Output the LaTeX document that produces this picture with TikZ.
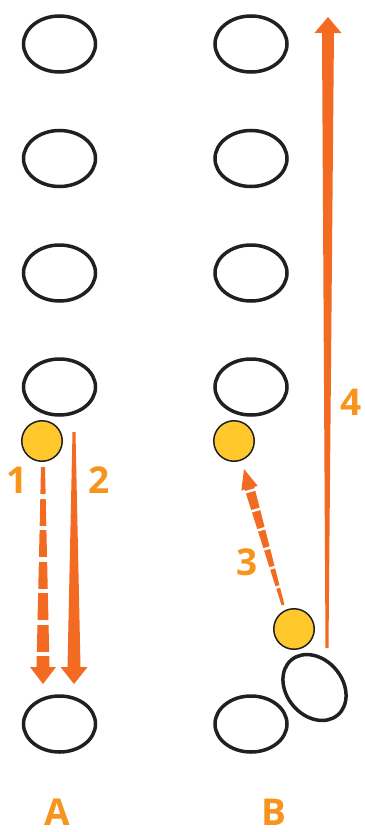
\documentclass[tikz,border=0pt]{standalone}
\usepackage{fontspec}
\setmainfont{Open Sans}
\usetikzlibrary{shapes.geometric,calc}
\definecolor{arrowor}{HTML}{F36A23}
\definecolor{labelor}{HTML}{F7941D}
\definecolor{ballyel}{HTML}{FFC82C}
\definecolor{inkblk}{HTML}{231F20}
\tikzset{
  slot/.style={ellipse, draw=inkblk, line width=3.5pt, minimum width=72pt, minimum height=56pt, inner sep=0pt},
  ball/.style={circle, draw=inkblk, fill=ballyel, line width=1.5pt, minimum size=40.5pt, inner sep=0pt},
  lab/.style={text=labelor, font=\fontsize{37}{37}\selectfont\bfseries, inner sep=0pt},
  arrowfill/.style={fill=arrowor},
}
% #1 tail, #2 tip, #3 tail half-width, #4 shaft half-width at head, #5 head half-width, #6 head length, #7 base name
\newcommand\taperarrow[7]{%
  \coordinate (#7) at ($(#2)!#6!(#1)$);
  \fill[arrowfill] ($(#1)!#3!90:(#2)$) -- ($(#7)!#4!-90:(#1)$) -- ($(#7)!#5!-90:(#1)$) -- (#2)
     -- ($(#7)!#5!90:(#1)$) -- ($(#7)!#4!90:(#1)$) -- ($(#1)!#3!-90:(#2)$) -- cycle;
}
\begin{document}
\begin{tikzpicture}[x=1pt,y=-1pt]
\useasboundingbox (0,0) rectangle (364,832);
% column A
\node[slot] (eA1) at (59.5,44) {};
\node[slot] (eA2) at (59.5,158.5) {};
\node[slot] (eA3) at (59.5,273) {};
\node[slot] (eA4) at (59.5,387) {};
\node[slot] (eA5) at (59.5,724) {};
% column B
\node[slot] (eB1) at (251,44) {};
\node[slot] (eB2) at (251,158.5) {};
\node[slot] (eB3) at (251,273) {};
\node[slot] (eB4) at (251,387) {};
\node[slot] (eB5) at (251,724) {};
\node[slot, rotate=-50] (eBt) at (314.5,687.5) {};
% balls
\node[ball] (cA) at (42,441) {};
\node[ball] (cB1) at (234,441) {};
\node[ball] (cB2) at (294,629) {};
% arrow coordinates
\coordinate (t1) at (43,467);
\coordinate (p1) at (43,684);
\coordinate (t2) at (74,432);
\coordinate (p2) at (74,684);
\coordinate (t3) at (283,605);
\coordinate (p3) at (244,469);
\coordinate (t4) at (327,648);
\coordinate (p4) at (328,17);
% arrow 1 (dashed)
\taperarrow{t1}{p1}{2pt}{6.5pt}{13pt}{17pt}{b1}
\draw[white, line width=18pt, dash pattern=on 4.5pt off 27pt, dash phase=4.5pt] (t1) -- (b1);
% arrow 2
\taperarrow{t2}{p2}{1.5pt}{6.5pt}{13.5pt}{17pt}{b2}
% arrow 3 (dashed)
\taperarrow{t3}{p3}{1.5pt}{5pt}{8.5pt}{20pt}{b3}
\draw[white, line width=14pt, dash pattern=on 2.5pt off 17.5pt, dash phase=2.5pt] (t3) -- (b3);
% arrow 4
\taperarrow{t4}{p4}{1.5pt}{6pt}{13.5pt}{16pt}{b4}
% labels
\node[lab] (l1) at (17.5,480) {1};
\node[lab] (l2) at (99,480) {2};
\node[lab] (l3) at (247.5,562) {3};
\node[lab] (l4) at (351,402) {4};
\node[lab] (lA) at (57,812) {A};
\node[lab] (lB) at (274,812) {B};
\end{tikzpicture}
\end{document}
